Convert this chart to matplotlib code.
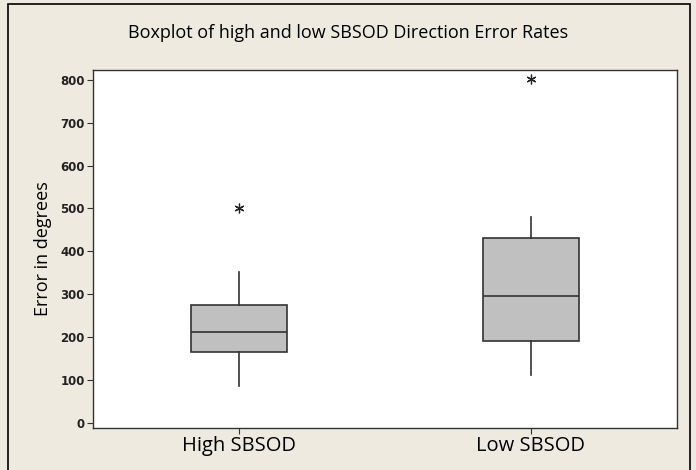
import matplotlib
matplotlib.use("Agg")
import matplotlib.pyplot as plt
from matplotlib.patches import Rectangle

# Summary values
groups = ["High SBSOD", "Low SBSOD"]
q1 = [165, 190]
medians = [212, 297]
q3 = [275, 430]
whisker_low = [85, 112]
whisker_high = [352, 480]
outliers = [[500], [803]]
y_ticks = [0, 100, 200, 300, 400, 500, 600, 700, 800]

stats = []
for i, name in enumerate(groups):
    stats.append({"label": name, "q1": q1[i], "med": medians[i], "q3": q3[i],
                  "whislo": whisker_low[i], "whishi": whisker_high[i],
                  "fliers": outliers[i]})

fig = plt.figure(figsize=(6.96, 4.70), dpi=100, facecolor="#eeeae0")
ax = fig.add_axes([93 / 696, 1 - 428 / 470, 584 / 696, 358 / 470])
ax.set_facecolor("white")

# outer frame like the Minitab graph window
fig.patches.append(Rectangle((8 / 696, -0.01), 682 / 696, 1 - 4 / 470 + 0.01,
                             transform=fig.transFigure, fill=False,
                             edgecolor="black", linewidth=1.2))

ax.bxp(stats, positions=[1, 2], widths=0.33, patch_artist=True,
       showcaps=False,
       boxprops=dict(facecolor="#c0c0c0", edgecolor="#333333", linewidth=1.2),
       medianprops=dict(color="#333333", linewidth=1.2),
       whiskerprops=dict(color="#333333", linewidth=1.2),
       flierprops=dict(marker=(6, 2, 0), markersize=7, markeredgecolor="#222222",
                       markeredgewidth=0.9, linestyle="none"))

ax.set_xlim(0.5, 2.5)
ax.set_ylim(-12, 823)
ax.set_yticks(y_ticks)
ax.set_yticklabels([str(v) for v in y_ticks], fontsize=8.5, fontweight="bold",
                   family="DejaVu Sans", color="#222222")
ax.set_xticks([1, 2])
ax.set_xticklabels(groups, fontsize=14.5, family="Open Sans")
ax.tick_params(axis="both", direction="out", length=4, width=0.8, color="#333333")
ax.tick_params(axis="y", pad=2)
ax.tick_params(axis="x", pad=2)
for s in ax.spines.values():
    s.set_color("#333333")
    s.set_linewidth(1.0)

ax.set_ylabel("Error in degrees", fontsize=13, family="Open Sans", labelpad=6)
fig.text(0.5, 1 - 33 / 470, "Boxplot of high and low SBSOD Direction Error Rates",
         ha="center", va="center", fontsize=13, family="Open Sans")

fig.savefig("out.png", dpi=100, facecolor=fig.get_facecolor())
